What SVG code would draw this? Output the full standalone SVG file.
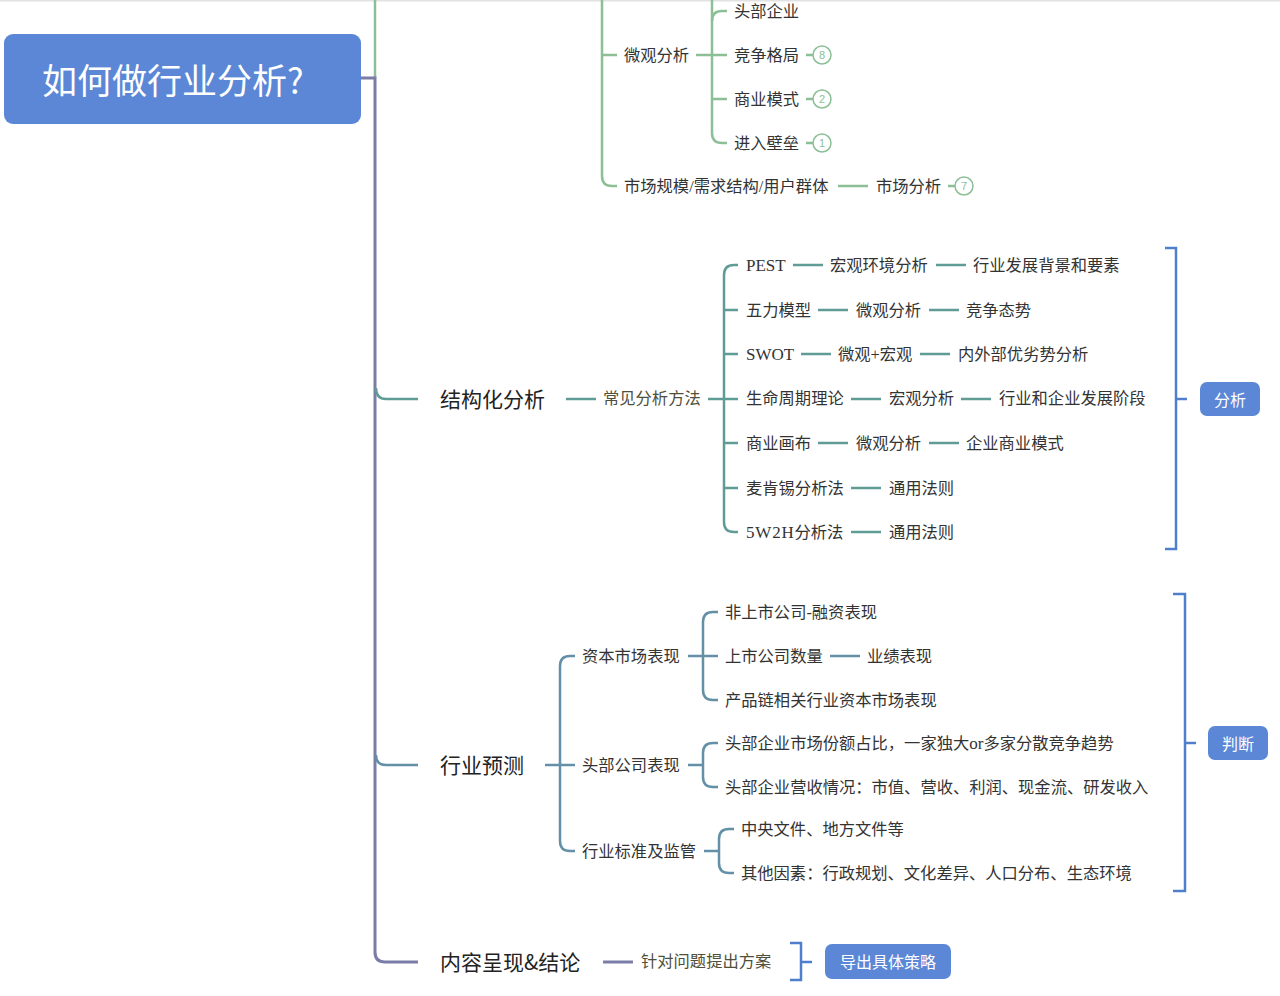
<svg xmlns="http://www.w3.org/2000/svg" width="1280" height="996" viewBox="0 0 1280 996">
<style>
.t{font-family:"Liberation Serif","Noto Sans CJK SC",serif;font-size:16.3px;fill:#333;dominant-baseline:central}
.l1{font-family:"Noto Sans CJK SC",sans-serif;font-size:21px;fill:#222;dominant-baseline:central}
.ol{fill:#4f4f3a}
.lw{font-family:"Noto Sans CJK SC",sans-serif;font-size:16px;fill:#fff;dominant-baseline:central;text-anchor:middle}
.g{stroke:#8cbf95;stroke-width:2.5;fill:none}
.tl{stroke:#5f9c96;stroke-width:2.5;fill:none}
.sb{stroke:#6390a7;stroke-width:2.5;fill:none}
.pu{stroke:#7b7da6;stroke-width:3;fill:none}
.br{stroke:#4f7fcc;stroke-width:2.5;fill:none}
.bx{fill:#5b87d6}
.bd{fill:#fff;stroke:#8cbf95;stroke-width:1.5}
.bn{font-family:"Liberation Sans",sans-serif;font-size:11px;fill:#8cbf95;text-anchor:middle;dominant-baseline:central}
.la{font-size:17px}
</style>
<rect x="0" y="0" width="1280" height="996" fill="#fff"/>
<line x1="0" y1="0.5" x2="1280" y2="0.5" stroke="#e2e2e2" stroke-width="2"/>

<g id="connectors">
  <path class="g" d="M375 0 V78"/>
  <path class="pu" d="M361 78 H375 V952 Q375 962 385 962 H418"/>
  <path class="tl" d="M376 388 Q376 399 386 399 H418"/>
  <path class="sb" d="M376 755 Q376 765 386 765 H418"/>
  <path class="g" d="M602 0 V176 Q602 186 612 186 H617"/>
  <path class="g" d="M602 55 H617"/>
  <path class="g" d="M696 55 H727"/>
  <path class="g" d="M712 0 V133 Q712 143 722 143 H727"/>
  <path class="g" d="M712 21 Q712 11 722 11 H727"/>
  <path class="g" d="M712 99 H727"/>
  <path class="g" d="M806 55 H813"/>
  <path class="g" d="M806 99 H813"/>
  <path class="g" d="M806 143 H813"/>
  <path class="g" d="M838 186 H868"/>
  <path class="g" d="M948 186 H955"/>
  <path class="tl" d="M566 399 H596"/>
  <path class="tl" d="M708 399 H738"/>
  <path class="tl" d="M738 265 H734 Q724 265 724 275 V522 Q724 532 734 532 H738"/>
  <path class="tl" d="M724 310 H738 M724 354 H738 M724 443 H738 M724 488 H738"/>
  <path class="tl" d="M793 265 H823 M936 265 H966"/>
  <path class="tl" d="M818 310 H848 M929 310 H959"/>
  <path class="tl" d="M801 354 H831 M920 354 H950"/>
  <path class="tl" d="M851 399 H881 M961 399 H991"/>
  <path class="tl" d="M818 443 H848 M929 443 H959"/>
  <path class="tl" d="M851 488 H881"/>
  <path class="tl" d="M851 532 H881"/>
  <path class="sb" d="M545 765 H575"/>
  <path class="sb" d="M575 656 H570 Q560 656 560 666 V841 Q560 851 570 851 H575"/>
  <path class="sb" d="M688 656 H718"/>
  <path class="sb" d="M718 612 H713 Q703 612 703 622 V690 Q703 700 713 700 H718"/>
  <path class="sb" d="M830 656 H860"/>
  <path class="sb" d="M688 765 H703"/>
  <path class="sb" d="M718 743 H713 Q703 743 703 753 V777 Q703 787 713 787 H718"/>
  <path class="sb" d="M704 851 H719"/>
  <path class="sb" d="M734 829 H729 Q719 829 719 839 V863 Q719 873 729 873 H734"/>
  <path class="pu" d="M603 962 H633"/>
  <path class="br" d="M1165 248 H1176 V549 H1165 M1176 399 H1187"/>
  <path class="br" d="M1173 594 H1185 V891 H1173 M1185 743 H1196"/>
  <path class="br" d="M790 943 H801 V980 H790 M801 962 H812"/>
</g>

<g id="root">
  <rect class="bx" x="4" y="34" width="357" height="90" rx="9"/>
  <text x="42" y="78" font-family="'Noto Sans CJK SC',sans-serif" font-size="35" fill="#fff" dominant-baseline="central">如何做行业分析?</text>
</g>

<g id="micro">
  <text class="t" x="734" y="11">头部企业</text>
  <text class="t" x="624" y="55">微观分析</text>
  <text class="t" x="734" y="55">竞争格局</text>
  <text class="t" x="734" y="99">商业模式</text>
  <text class="t" x="734" y="143">进入壁垒</text>
  <circle class="bd" cx="822" cy="55" r="9"/><text class="bn" x="822" y="55">8</text>
  <circle class="bd" cx="822" cy="99" r="9"/><text class="bn" x="822" y="99">2</text>
  <circle class="bd" cx="822" cy="143" r="9"/><text class="bn" x="822" y="143">1</text>
</g>
<g id="market">
  <text class="t" x="624" y="186">市场规模/需求结构/用户群体</text>
  <text class="t" x="876" y="186">市场分析</text>
  <circle class="bd" cx="964" cy="186" r="9"/><text class="bn" x="964" y="186">7</text>
</g>

<g id="structured">
  <text class="l1" x="440" y="398">结构化分析</text>
  <text class="t ol" x="603" y="398">常见分析方法</text>
  <text class="t" x="746" y="265"><tspan class="la">PEST</tspan></text>
  <text class="t" x="830" y="265">宏观环境分析</text>
  <text class="t" x="973" y="265">行业发展背景和要素</text>
  <text class="t" x="746" y="310">五力模型</text>
  <text class="t" x="856" y="310">微观分析</text>
  <text class="t" x="966" y="310">竞争态势</text>
  <text class="t" x="746" y="354"><tspan class="la">SWOT</tspan></text>
  <text class="t" x="838" y="354">微观+宏观</text>
  <text class="t" x="958" y="354">内外部优劣势分析</text>
  <text class="t" x="746" y="398">生命周期理论</text>
  <text class="t" x="889" y="398">宏观分析</text>
  <text class="t" x="999" y="398">行业和企业发展阶段</text>
  <text class="t" x="746" y="443">商业画布</text>
  <text class="t" x="856" y="443">微观分析</text>
  <text class="t" x="966" y="443">企业商业模式</text>
  <text class="t" x="746" y="488">麦肯锡分析法</text>
  <text class="t" x="889" y="488">通用法则</text>
  <text class="t" x="746" y="532"><tspan class="la" letter-spacing="0.8">5W2H</tspan>分析法</text>
  <text class="t" x="889" y="532">通用法则</text>
</g>
<g id="analysis-box">
  <rect class="bx" x="1200" y="382" width="60" height="34" rx="7"/>
  <text class="lw" x="1230" y="399">分析</text>
</g>

<g id="forecast">
  <text class="l1" x="440" y="764">行业预测</text>
  <text class="t" x="582" y="656">资本市场表现</text>
  <text class="t" x="582" y="765">头部公司表现</text>
  <text class="t" x="582" y="851">行业标准及监管</text>
  <text class="t" x="725" y="612">非上市公司-融资表现</text>
  <text class="t" x="725" y="656">上市公司数量</text>
  <text class="t" x="867" y="656">业绩表现</text>
  <text class="t" x="725" y="700">产品链相关行业资本市场表现</text>
  <text class="t" x="725" y="743">头部企业市场份额占比，一家独大<tspan class="la">or</tspan>多家分散竞争趋势</text>
  <text class="t" x="725" y="787">头部企业营收情况：市值、营收、利润、现金流、研发收入</text>
  <text class="t" x="741" y="829">中央文件、地方文件等</text>
  <text class="t" x="741" y="873">其他因素：行政规划、文化差异、人口分布、生态环境</text>
</g>
<g id="judge-box">
  <rect class="bx" x="1208" y="726" width="60" height="34" rx="7"/>
  <text class="lw" x="1238" y="743">判断</text>
</g>

<g id="conclusion">
  <text class="l1" x="440" y="961">内容呈现&amp;结论</text>
  <text class="t ol" x="641" y="961">针对问题提出方案</text>
</g>
<g id="strategy-box">
  <rect class="bx" x="825" y="944" width="126" height="35" rx="7"/>
  <text class="lw" x="888" y="961">导出具体策略</text>
</g>
</svg>
